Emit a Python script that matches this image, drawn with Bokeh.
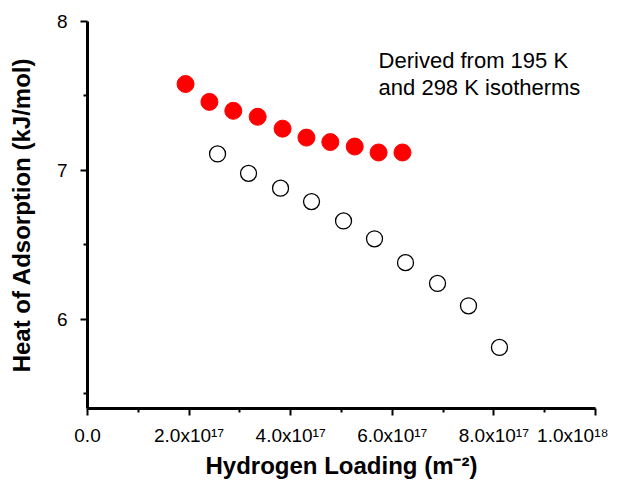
from bokeh.plotting import figure
from bokeh.models import Range1d, FixedTicker, Label, CustomJSTickFormatter
from bokeh.embed import file_html
from bokeh.resources import INLINE

# 298 K / 195 K derived heats (filled red)
red_x = [1.93e17, 2.40e17, 2.87e17, 3.35e17, 3.84e17, 4.31e17, 4.78e17, 5.26e17, 5.73e17, 6.20e17]
red_y = [7.58, 7.46, 7.40, 7.36, 7.28, 7.22, 7.19, 7.16, 7.12, 7.12]
# open circles
open_x = [2.56e17, 3.17e17, 3.80e17, 4.41e17, 5.04e17, 5.65e17, 6.26e17, 6.89e17, 7.50e17, 8.11e17]
open_y = [7.11, 6.98, 6.88, 6.79, 6.66, 6.54, 6.38, 6.24, 6.09, 5.81]

x_ticks = [0, 2e17, 4e17, 6e17, 8e17, 1e18]
x_minor = [1e17, 3e17, 5e17, 7e17, 9e17]
x_tick_labels = ["0.0", "2.0x10\u00b9\u2077", "4.0x10\u00b9\u2077", "6.0x10\u00b9\u2077",
                 "8.0x10\u00b9\u2077", "1.0x10\u00b9\u2078"]
y_ticks = [6, 7, 8]
y_minor = [5.5, 6.5, 7.5]

x_title = "Hydrogen Loading (m\u207b\u00b2)"
y_title = "Heat of Adsorption (kJ/mol)"
note_lines = ["Derived from 195 K", "and 298 K isotherms"]

p = figure(width=608, height=481, x_range=Range1d(0, 1e18), y_range=Range1d(5.4, 8.0),
           output_backend="svg", toolbar_location=None,
           min_border_left=87, min_border_right=13, min_border_top=21, min_border_bottom=73)
p.outline_line_color = None
p.xgrid.grid_line_color = None
p.ygrid.grid_line_color = None
p.background_fill_color = "white"
p.border_fill_color = "white"

xa = p.xaxis[0]
ya = p.yaxis[0]
xa.ticker = FixedTicker(ticks=x_ticks, minor_ticks=x_minor)
ya.ticker = FixedTicker(ticks=y_ticks, minor_ticks=y_minor)
xa.formatter = CustomJSTickFormatter(args=dict(tvals=x_ticks, tlabels=x_tick_labels), code="""
    let best = 0, bd = Infinity;
    for (let i = 0; i < tvals.length; i++) {
        const d = Math.abs(tvals[i] - tick);
        if (d < bd) { bd = d; best = i; }
    }
    return tlabels[best];
""")
for ax in (xa, ya):
    ax.axis_line_width = 3
    ax.axis_line_color = "black"
    ax.major_tick_line_width = 2
    ax.minor_tick_line_width = 2
    ax.major_tick_out = 7
    ax.major_tick_in = 0
    ax.minor_tick_out = 4
    ax.minor_tick_in = 0
    ax.major_label_text_font = "Liberation Sans"
    ax.major_label_text_font_size = "19px"
    ax.major_label_text_color = "black"
    ax.axis_label_text_font = "Liberation Sans"
    ax.axis_label_text_font_style = "bold"
    ax.axis_label_text_font_size = "24px"
    ax.axis_label_text_color = "black"
xa.major_label_standoff = 9
ya.major_label_standoff = 13
xa.axis_label = x_title
ya.axis_label = y_title
xa.axis_label_standoff = 3
ya.axis_label_standoff = 19

p.scatter(red_x, red_y, size=17, marker="circle", fill_color="#ff0000", line_color="#ff0000", line_width=1)
p.scatter(open_x, open_y, size=16, marker="circle", fill_color="white", line_color="black", line_width=1.3)

p.add_layout(Label(x=5.73e17, y=7.738, text=note_lines[0], text_font="Liberation Sans",
                   text_font_size="22px", text_baseline="alphabetic", text_color="black"))
p.add_layout(Label(x=5.73e17, y=7.557, text=note_lines[1], text_font="Liberation Sans",
                   text_font_size="22px", text_baseline="alphabetic", text_color="black"))

open("out.html", "w").write(file_html(p, INLINE))
